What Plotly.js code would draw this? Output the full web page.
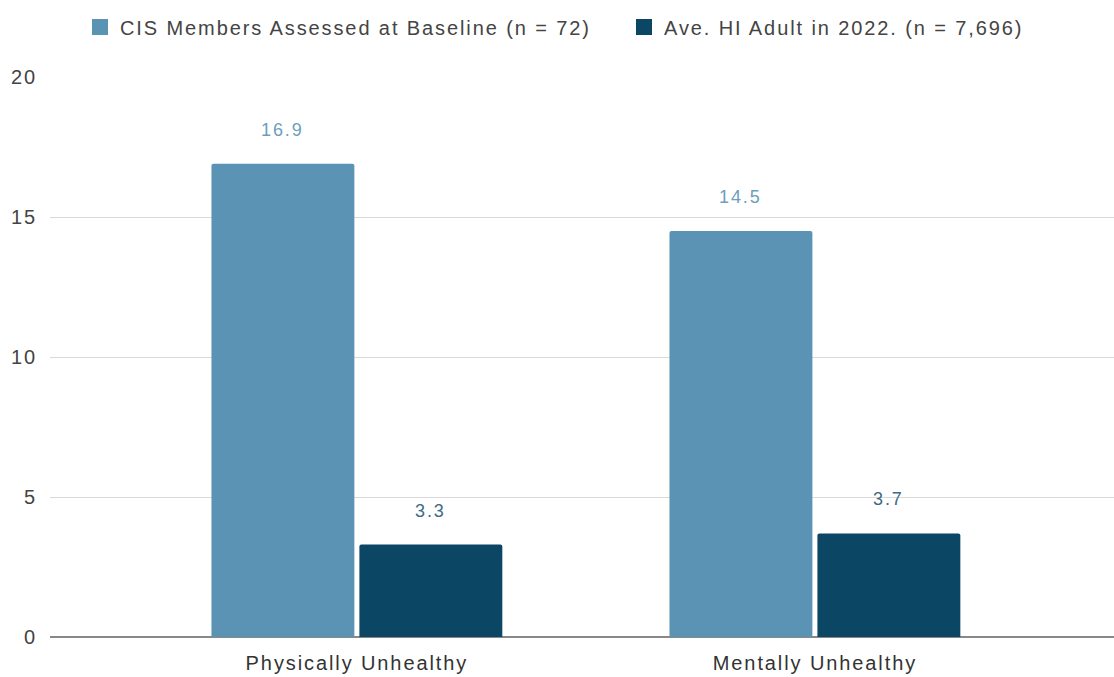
<!DOCTYPE html>
<html>
<head>
<meta charset="utf-8">
<script src="https://cdn.plot.ly/plotly-3.0.1.min.js"></script>
<style>html,body{margin:0;padding:0;background:#fff;}#chart{width:1114px;height:677px;}
svg text{letter-spacing:1.9px;}</style>
</head>
<body>
<div id="chart"></div>
<script>
const categories = ["Physically Unhealthy", "Mentally Unhealthy"];
const seriesNames = ["CIS Members Assessed at Baseline (n = 72)", "Ave. HI Adult in 2022. (n = 7,696)"];
const cisValues = [16.9, 14.5];
const hiValues = [3.3, 3.7];
const yTicks = [0, 5, 10, 15, 20];

const colors = ["#5a93b3", "#0b4664"];
const labelColors = ["#6b9fbd", "#3d6a85"];
const FONT = "Arial, 'Liberation Sans', sans-serif";
const bargap = 0.354;
const slot = (1 - bargap) / 2;

const series = [cisValues, hiValues];
const legendIds = ["legend", "legend2"];
const traces = [];
series.forEach((vals, i) => {
  traces.push({
    type: "bar", x: categories, y: vals, name: seriesNames[i],
    marker: {color: colors[i], cornerradius: 2},
    showlegend: false, hoverinfo: "x+y"
  });
});
// legend proxies with larger square symbols, one legend box per series
series.forEach((vals, i) => {
  traces.push({
    type: "scatter", mode: "markers", x: [null], y: [null], name: seriesNames[i],
    marker: {symbol: "square", size: 16, color: colors[i]}, showlegend: true,
    legend: legendIds[i]
  });
});

const annotations = [];
series.forEach((vals, i) => {
  const off = (i === 0 ? -1 : 1) * slot / 2;
  vals.forEach((v, j) => {
    annotations.push({
      x: j + off, y: v, xref: "x", yref: "y", text: v.toFixed(1), showarrow: false,
      yanchor: "bottom", yshift: 22,
      font: {family: FONT, size: 18, color: labelColors[i]}
    });
  });
});

function legendBox(xpx) {
  return {orientation: "h", xref: "container", yref: "container", x: xpx/1114, xanchor: "left",
          y: 1 - 27/677, yanchor: "middle", font: {family: FONT, size: 20, color: "#444"},
          itemsizing: "trace", bgcolor: "rgba(0,0,0,0)"};
}

const layout = {
  width: 1114, height: 677,
  margin: {l: 50, r: 0, t: 77, b: 40},
  paper_bgcolor: "#fff", plot_bgcolor: "#fff",
  font: {family: FONT, size: 20, color: "#444"},
  barmode: "group", bargap: bargap, bargroupgap: 0.034,
  showlegend: true,
  legend: legendBox(80),
  legend2: legendBox(624),
  xaxis: {type: "category", range: [-0.67, 1.653], showgrid: false, zeroline: false,
          showline: false, ticks: "", ticklabelstandoff: 12, tickfont: {family: FONT, size: 20, color: "#333"}, fixedrange: true},
  yaxis: {range: [0, 20], tickvals: yTicks, ticktext: yTicks.map(String),
          showgrid: true, gridcolor: "#d9d9d9", gridwidth: 1, zeroline: true, zerolinecolor: "#888", zerolinewidth: 2,
          showline: false, ticks: "", ticklabelstandoff: 12, tickfont: {family: FONT, size: 20, color: "#444"}, fixedrange: true},
  annotations: annotations
};
Plotly.newPlot("chart", traces, layout, {displayModeBar: false, staticPlot: true});
</script>
</body>
</html>
